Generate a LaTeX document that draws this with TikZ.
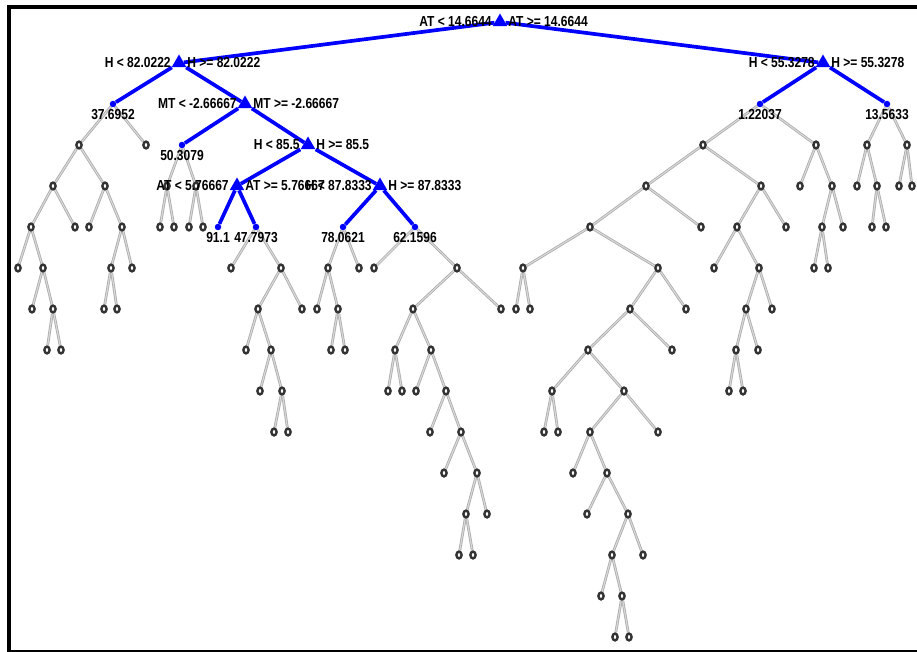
\documentclass[tikz,border=0pt]{standalone}
\usepackage{fontspec}
\newfontfamily\treefont[FakeStretch=0.83]{Liberation Sans}
\usetikzlibrary{shapes.geometric, positioning, backgrounds}

\begin{document}
\begin{tikzpicture}[
    x=1pt, y=-1pt,
    gnode/.style={ellipse, draw=black!80, fill=white, line width=2.4pt, minimum width=5.2pt, minimum height=6.8pt, inner sep=0pt},
    bleaf/.style={circle, fill=blue, minimum size=6.5pt, inner sep=0pt},
    bsplit/.style={regular polygon, regular polygon sides=3, fill=blue, minimum size=17pt, inner sep=0pt},
    gedge/.style={draw=gray!65, double=gray!30, double distance=1.1pt, line width=0.8pt},
    bedge/.style={draw=blue, line width=3.7pt},
    splitlbl/.style={font=\treefont\bfseries\fontsize{14.5}{15}\selectfont, inner sep=1pt},
    leaflbl/.style={font=\treefont\bfseries\fontsize{14.5}{15}\selectfont, inner sep=1pt}
]
    \useasboundingbox (0,0) rectangle (917,652);

    % frame
    \draw[line width=4pt] (917,7) -- (9,7) -- (9,652);
    \draw[line width=1.5pt] (9,651) -- (917,651);

    % splits on the kept path
    \node[bsplit] (s_AT1) at (500,22) {};
    \node[bsplit] (s_H1) at (179,63) {};
    \node[bsplit] (s_H2) at (823,63) {};
    \node[bsplit] (s_MT) at (245,104) {};
    \node[bsplit] (s_H3) at (308,145) {};
    \node[bsplit] (s_AT2) at (237,186) {};
    \node[bsplit] (s_H4) at (380,186) {};

    % leaves of the kept path
    \node[bleaf] (l_37) at (113,104) {};
    \node[bleaf] (l_12) at (760,104) {};
    \node[bleaf] (l_13) at (887,104) {};
    \node[bleaf] (l_50) at (182,145) {};
    \node[bleaf] (l_91) at (218,227) {};
    \node[bleaf] (l_47) at (256,227) {};
    \node[bleaf] (l_78) at (343,227) {};
    \node[bleaf] (l_62) at (415,227) {};

    % pruned nodes, one row per depth
    \foreach \x in {79,146,703,816,867,907} \node[gnode] (n3_\x) at (\x,145) {};
    \foreach \x in {53,105,167,196,646,761,800,832,857,877,899,912} \node[gnode] (n4_\x) at (\x,186) {};
    \foreach \x in {31,75,89,122,160,174,189,203,590,701,737,786,822,843,872,886} \node[gnode] (n5_\x) at (\x,227) {};
    \foreach \x in {18,43,111,132,231,281,328,359,374,457,523,658,714,759,814,828} \node[gnode] (n6_\x) at (\x,268) {};
    \foreach \x in {32,53,104,117,258,302,317,338,413,501,516,530,630,686,746,772} \node[gnode] (n7_\x) at (\x,309) {};
    \foreach \x in {47,61,246,271,331,345,395,431,588,672,736,758} \node[gnode] (n8_\x) at (\x,350) {};
    \foreach \x in {260,282,388,402,416,446,552,624,729,743} \node[gnode] (n9_\x) at (\x,391) {};
    \foreach \x in {274,288,430,461,544,558,590,658} \node[gnode] (n10_\x) at (\x,432) {};
    \foreach \x in {444,477,573,607} \node[gnode] (n11_\x) at (\x,473) {};
    \foreach \x in {466,487,587,628} \node[gnode] (n12_\x) at (\x,514) {};
    \foreach \x in {459,473,612,643} \node[gnode] (n13_\x) at (\x,555) {};
    \foreach \x in {601,622} \node[gnode] (n14_\x) at (\x,596) {};
    \foreach \x in {615,629} \node[gnode] (n15_\x) at (\x,637) {};

    \begin{scope}[on background layer]
      \fill[white] (0,0) rectangle (917,652);
      % pruned branches
      \foreach \a/\b in {l_37/n3_79, l_37/n3_146, n3_79/n4_53, n3_79/n4_105,
          n4_53/n5_31, n4_53/n5_75, n4_105/n5_89, n4_105/n5_122,
          n5_31/n6_18, n5_31/n6_43, n5_122/n6_111, n5_122/n6_132,
          n6_43/n7_32, n6_43/n7_53, n6_111/n7_104, n6_111/n7_117,
          n7_53/n8_47, n7_53/n8_61,
          l_50/n4_167, l_50/n4_196, n4_167/n5_160, n4_167/n5_174, n4_196/n5_189, n4_196/n5_203,
          l_47/n6_231, l_47/n6_281, n6_281/n7_258, n6_281/n7_302,
          n7_258/n8_246, n7_258/n8_271, n8_271/n9_260, n8_271/n9_282,
          n9_282/n10_274, n9_282/n10_288,
          l_78/n6_328, l_78/n6_359, n6_328/n7_317, n6_328/n7_338,
          n7_338/n8_331, n7_338/n8_345,
          l_62/n6_374, l_62/n6_457, n6_457/n7_413, n6_457/n7_501,
          n7_413/n8_395, n7_413/n8_431, n8_395/n9_388, n8_395/n9_402,
          n8_431/n9_416, n8_431/n9_446, n9_446/n10_430, n9_446/n10_461,
          n10_461/n11_444, n10_461/n11_477, n11_477/n12_466, n11_477/n12_487,
          n12_466/n13_459, n12_466/n13_473,
          l_12/n3_703, l_12/n3_816, n3_703/n4_646, n3_703/n4_761,
          n4_646/n5_590, n4_646/n5_701, n5_590/n6_523, n5_590/n6_658,
          n6_523/n7_516, n6_523/n7_530, n6_658/n7_630, n6_658/n7_686,
          n7_630/n8_588, n7_630/n8_672, n8_588/n9_552, n8_588/n9_624,
          n9_552/n10_544, n9_552/n10_558, n9_624/n10_590, n9_624/n10_658,
          n10_590/n11_573, n10_590/n11_607, n11_607/n12_587, n11_607/n12_628,
          n12_628/n13_612, n12_628/n13_643, n13_612/n14_601, n13_612/n14_622,
          n14_622/n15_615, n14_622/n15_629,
          n4_761/n5_737, n4_761/n5_786, n5_737/n6_714, n5_737/n6_759,
          n6_759/n7_746, n6_759/n7_772, n7_746/n8_736, n7_746/n8_758,
          n8_736/n9_729, n8_736/n9_743,
          n3_816/n4_800, n3_816/n4_832, n4_832/n5_822, n4_832/n5_843,
          n5_822/n6_814, n5_822/n6_828,
          l_13/n3_867, l_13/n3_907, n3_867/n4_857, n3_867/n4_877,
          n4_877/n5_872, n4_877/n5_886, n3_907/n4_899, n3_907/n4_912}
        \draw[gedge] (\a) -- (\b);
      % kept path
      \foreach \a/\b in {s_AT1/s_H1, s_AT1/s_H2, s_H1/l_37, s_H1/s_MT, s_H2/l_12, s_H2/l_13,
          s_MT/l_50, s_MT/s_H3, s_H3/s_AT2, s_H3/s_H4, s_AT2/l_91, s_AT2/l_47,
          s_H4/l_78, s_H4/l_62}
        \draw[bedge] (\a) -- (\b);
    \end{scope}

    % split rules
    \node[splitlbl, left=2pt of s_AT1] (t_AT1_lt) {AT < 14.6644};
    \node[splitlbl, right=2pt of s_AT1] (t_AT1_ge) {AT >= 14.6644};
    \node[splitlbl, left=2pt of s_H1] (t_H1_lt) {H < 82.0222};
    \node[splitlbl, right=2pt of s_H1] (t_H1_ge) {H >= 82.0222};
    \node[splitlbl, left=2pt of s_H2] (t_H2_lt) {H < 55.3278};
    \node[splitlbl, right=2pt of s_H2] (t_H2_ge) {H >= 55.3278};
    \node[splitlbl, left=2pt of s_MT] (t_MT_lt) {MT < -2.66667};
    \node[splitlbl, right=2pt of s_MT] (t_MT_ge) {MT >= -2.66667};
    \node[splitlbl, left=2pt of s_H3] (t_H3_lt) {H < 85.5};
    \node[splitlbl, right=2pt of s_H3] (t_H3_ge) {H >= 85.5};
    \node[splitlbl, left=2pt of s_AT2] (t_AT2_lt) {AT < 5.76667};
    \node[splitlbl, right=2pt of s_AT2] (t_AT2_ge) {AT >= 5.76667};
    \node[splitlbl, left=2pt of s_H4] (t_H4_lt) {H < 87.8333};
    \node[splitlbl, right=2pt of s_H4] (t_H4_ge) {H >= 87.8333};

    % leaf values
    \node[leaflbl, below=1pt of l_37] (v_37) {37.6952};
    \node[leaflbl, below=1pt of l_12] (v_12) {1.22037};
    \node[leaflbl, below=1pt of l_13] (v_13) {13.5633};
    \node[leaflbl, below=1pt of l_50] (v_50) {50.3079};
    \node[leaflbl, below=1pt of l_91] (v_91) {91.1};
    \node[leaflbl, below=1pt of l_47] (v_47) {47.7973};
    \node[leaflbl, below=1pt of l_78] (v_78) {78.0621};
    \node[leaflbl, below=1pt of l_62] (v_62) {62.1596};
\end{tikzpicture}
\end{document}
